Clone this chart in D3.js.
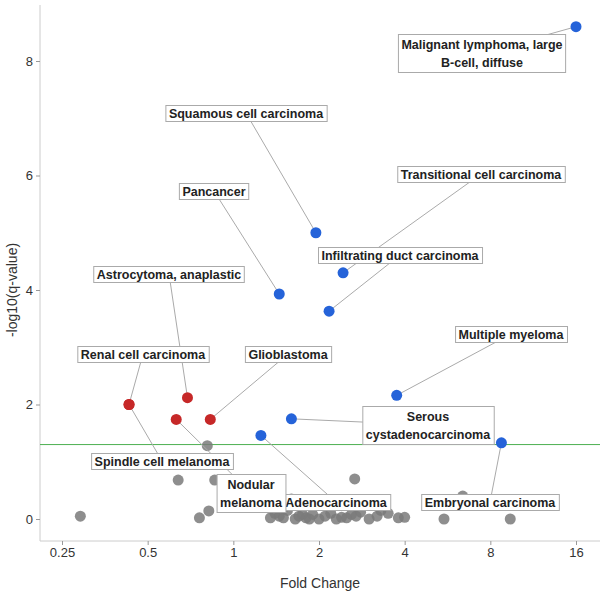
<!DOCTYPE html><html><head><meta charset="utf-8">
<script src="https://cdn.jsdelivr.net/npm/d3@7"></script>
<style>body{margin:0;background:#fff}text{font-family:"Liberation Sans",Arial,sans-serif}</style></head><body>
<svg id="c" width="608" height="600"></svg>
<script>
const names=["Malignant lymphoma, large|B-cell, diffuse","Squamous cell carcinoma","Transitional cell carcinoma","Pancancer","Infiltrating duct carcinoma","Multiple myeloma","Serous|cystadenocarcinoma","Adenocarcinoma","Embryonal carcinoma","Renal cell carcinoma","Astrocytoma, anaplastic","Nodular|melanoma","Glioblastoma","Spindle cell melanoma"];
const sigFC=[16,1.95,2.43,1.45,2.17,3.75,1.6,1.25,8.75,0.43,0.69,0.63,0.83,0.43];
const sigQ=[8.6,5.0,4.3,3.93,3.63,2.16,1.75,1.46,1.33,2.0,2.12,1.74,1.74,2.0];
const sigGroup=["up","up","up","up","up","up","up","up","up","down","down","down","down","down"];
const labelPos=[[482,53],[246,113],[481,174],[214,191],[400,255],[511,334],[428,425],[336,502],[490,502],[143,354],[169,274],[251,493],[288,354],[162,461]];
const nsFC=[0.29,0.81,0.64,0.86,0.82,0.76,2.67,6.4,9.4,5.5,1.3,1.4,1.45,1.5,1.55,1.6,1.65,1.7,1.8,1.9,2.0,2.1,2.2,2.4,2.5,2.6,2.8,3.0,3.2,3.5,3.8,4.0,1.5,1.6,1.75,2.3,3.3,1.35,1.85,2.7];
const nsQ=[0.05,1.28,0.68,0.68,0.14,0.02,0.7,0.4,0.0,0.0,0.25,0.1,0.05,0.02,0.15,0.3,0.0,0.05,0.02,0.08,0.0,0.05,0.1,0.03,0.02,0.08,0.12,0.0,0.05,0.1,0.02,0.03,0.2,0.35,0.08,0.0,0.15,0.02,0.0,0.05];
const xTicks=[0.25,0.5,1,2,4,8,16], yTicks=[0,2,4,6,8];
const svg=d3.select("#c");
const x=d3.scaleLog().base(2).domain([0.25,16]).range([62,576]);
const y=d3.scaleLinear().domain([0,8]).range([519,61]);
svg.append("line").attr("x1",40).attr("x2",40).attr("y1",5).attr("y2",541).attr("stroke","#ccc");
svg.append("line").attr("x1",40).attr("x2",600).attr("y1",541).attr("y2",541).attr("stroke","#ccc");
const xa=svg.append("g").attr("transform","translate(0,541)").call(d3.axisBottom(x).tickValues(xTicks).tickFormat(d3.format("")).tickSize(4));
xa.select(".domain").remove();
xa.selectAll("text").attr("font-size",13).attr("fill","#333");xa.selectAll("line").attr("stroke","#999");
const ya=svg.append("g").attr("transform","translate(40,0)").call(d3.axisLeft(y).tickValues(yTicks).tickSize(4));
ya.select(".domain").remove();
ya.selectAll("text").attr("font-size",13).attr("fill","#333");ya.selectAll("line").attr("stroke","#999");
svg.append("text").attr("x",320).attr("y",588).attr("text-anchor","middle").attr("font-size",14).attr("fill","#333").text("Fold Change");
svg.append("text").attr("transform","translate(17,290) rotate(-90)").attr("text-anchor","middle").attr("font-size",14).attr("fill","#333").text("-log10(q-value)");
svg.append("line").attr("x1",40).attr("x2",600).attr("y1",y(1.3)).attr("y2",y(1.3)).attr("stroke","#4caf50").attr("stroke-width",1);
svg.selectAll(".ns").data(nsFC).enter().append("circle").attr("cx",d=>x(d)).attr("cy",(d,i)=>y(nsQ[i])).attr("r",5.5).attr("fill","#7a7a7a").attr("opacity",0.85);
names.forEach((n,i)=>{svg.append("line").attr("x1",x(sigFC[i])).attr("y1",y(sigQ[i])).attr("x2",labelPos[i][0]).attr("y2",labelPos[i][1]).attr("stroke","#aaa").attr("stroke-width",1);});
svg.selectAll(".s").data(sigFC).enter().append("circle").attr("cx",d=>x(d)).attr("cy",(d,i)=>y(sigQ[i])).attr("r",5.5).attr("fill",(d,i)=>sigGroup[i]=="up"?"#2563d9":"#c62828");
names.forEach((n,i)=>{
 const lines=n.split("|"),[cx,cy]=labelPos[i];
 const lg=svg.append("g");
 const t=lg.append("text").attr("text-anchor","middle").attr("font-size",12.5).attr("font-weight","bold").attr("fill","#222");
 lines.forEach((l,k)=>t.append("tspan").attr("x",cx).attr("y",cy+4.5+(k-(lines.length-1)/2)*18).text(l));
 const b=t.node().getBBox();
 lg.insert("rect","text").attr("x",b.x-3).attr("y",b.y-(lines.length>1?3:1)).attr("width",b.width+6).attr("height",b.height+(lines.length>1?6:2)).attr("fill","#fff").attr("stroke","#aaa");
});
</script></body></html>
